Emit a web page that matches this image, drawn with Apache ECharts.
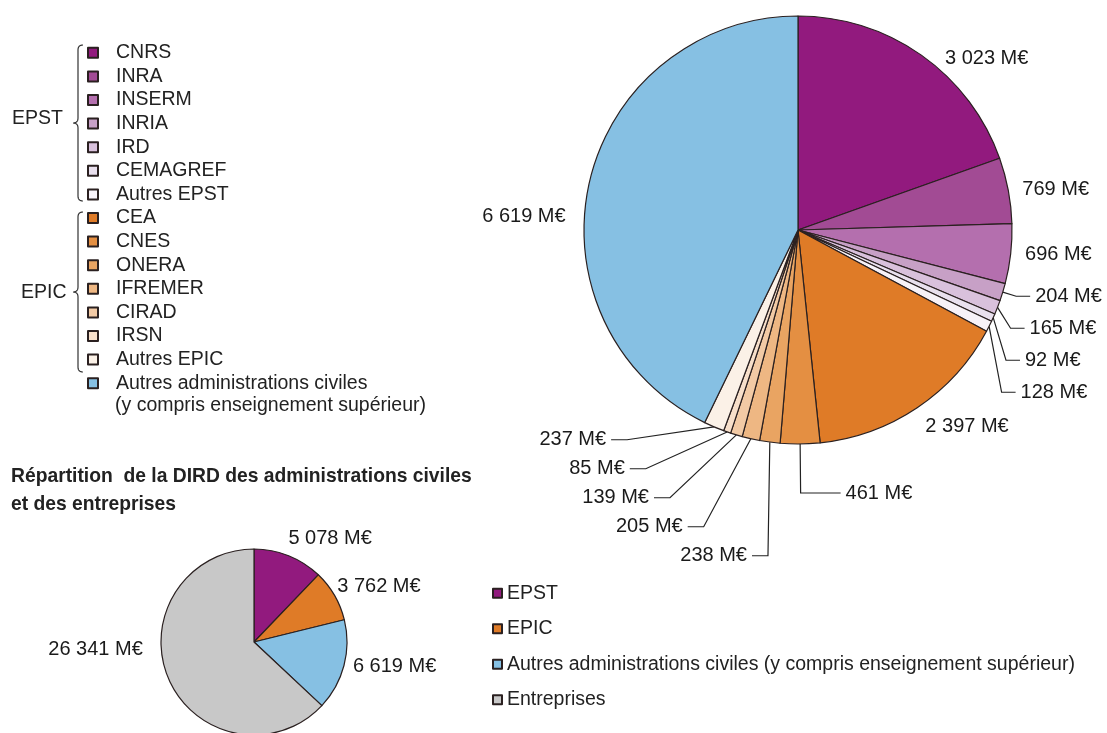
<!DOCTYPE html>
<html>
<head>
<meta charset="utf-8">
<script src="https://cdn.jsdelivr.net/npm/echarts@6/dist/echarts.min.js"></script>
<style>
  html, body { margin: 0; padding: 0; background: #fff; }
  #main { width: 1107px; height: 733px; }
</style>
</head>
<body>
<div id="main"></div>
<script>
// DIRD des administrations civiles, par organisme (M€)
var organismes = ['CNRS', 'INRA', 'INSERM', 'INRIA', 'IRD', 'CEMAGREF', 'Autres EPST',
  'CEA', 'CNES', 'ONERA', 'IFREMER', 'CIRAD', 'IRSN', 'Autres EPIC',
  'Autres administrations civiles (y compris enseignement supérieur)'];
var montants = [3023, 769, 696, 204, 165, 92, 128, 2397, 461, 238, 205, 139, 85, 237, 6619];
var couleurs = ['#921a7e', '#a24b94', '#b46fae', '#c7a0c6', '#d9c1dc', '#e9e0ee', '#f7f2f8',
  '#df7b27', '#e48f42', '#e9a462', '#eeb783', '#f2caa5', '#f7dfca', '#fbf1e7', '#86c0e3'];

// Répartition DIRD administrations civiles / entreprises (M€)
var secteurs = ['EPST', 'EPIC', 'Autres administrations civiles (y compris enseignement supérieur)', 'Entreprises'];
var montantsSecteurs = [5078, 3762, 6619, 26341];
var couleursSecteurs = ['#921a7e', '#df7b27', '#86c0e3', '#c8c8c8'];

var police = '"Liberation Sans", Arial, sans-serif';

function fmt(v) {
  return String(v).replace(/\B(?=(\d{3})+(?!\d))/g, ' ') + ' M€';
}

// accolade dessinée en polyligne (courbes quadratiques échantillonnées)
function quad(pts, p0, c, p1) {
  for (var t = 0.125; t <= 1.0001; t += 0.125) {
    var u = 1 - t;
    pts.push([u * u * p0[0] + 2 * u * t * c[0] + t * t * p1[0], u * u * p0[1] + 2 * u * t * c[1] + t * t * p1[1]]);
  }
}
function accolade(x, y1, y2) {
  var m = (y1 + y2) / 2, pts = [[x + 5, y1]];
  quad(pts, [x + 5, y1], [x, y1], [x, y1 + 5]);
  pts.push([x, m - 5]);
  quad(pts, [x, m - 5], [x, m], [x - 5, m]);
  quad(pts, [x - 5, m], [x, m], [x, m + 5]);
  pts.push([x, y2 - 5]);
  quad(pts, [x, y2 - 5], [x, y2], [x + 5, y2]);
  return pts;
}

// réglage des étiquettes : sans trait pour les grandes parts
function reglage(i) {
  if (i >= 3 && i <= 6) return { line: { show: true, length: 14, length2: 14 }, label: { lineHeight: 30, alignTo: 'labelLine', edgeDistance: 8 } };
  if (i === 8) return { line: { show: true, length: 49, length2: 40 }, label: { lineHeight: 22 } };
  if (i >= 9 && i <= 13) return { line: { show: true, length: 14, length2: 16 }, label: { lineHeight: 27 } };
  return { line: { show: false, length: 8, length2: 6 }, label: { lineHeight: 22 } };
}

var donnees = organismes.map(function (n, i) {
  var r = reglage(i);
  return {
    name: n,
    value: montants[i],
    itemStyle: { color: couleurs[i] },
    labelLine: r.line,
    label: r.label
  };
});

var donneesSecteurs = secteurs.map(function (n, i) {
  return { name: n, value: montantsSecteurs[i], itemStyle: { color: couleursSecteurs[i] } };
});

var myChart = echarts.init(document.getElementById('main'));

var option = {
  backgroundColor: '#fff',
  animation: false,
  title: {
    text: 'Répartition  de la DIRD des administrations civiles\net des entreprises',
    left: 6,
    top: 458,
    textStyle: { fontFamily: police, fontSize: 19.3, fontWeight: 'bold', color: '#222', lineHeight: 28 }
  },
  legend: [{
    data: organismes,
    orient: 'vertical',
    left: 82,
    top: 36,
    itemWidth: 10,
    itemHeight: 10,
    itemGap: 0,
    icon: 'rect',
    selectedMode: false,
    formatter: function (n) { return n.replace(/ \(.*\)$/, ''); },
    textStyle: { fontFamily: police, fontSize: 19.5, lineHeight: 23.6, color: '#222', padding: [0, 0, 0, 13] }
  }, {
    data: secteurs,
    orient: 'vertical',
    left: 487,
    top: 577,
    itemWidth: 9,
    itemHeight: 9,
    itemGap: 13,
    icon: 'rect',
    selectedMode: false,
    textStyle: { fontFamily: police, fontSize: 19.5, lineHeight: 22.5, color: '#222' }
  }],
  graphic: [
    { type: 'polyline', shape: { points: accolade(78, 45, 201) }, style: { fill: null, stroke: '#333', lineWidth: 1.2 } },
    { type: 'polyline', shape: { points: accolade(78, 212, 372) }, style: { fill: null, stroke: '#333', lineWidth: 1.2 } },
    { type: 'text', left: 12, top: 109, style: { text: 'EPST', font: '19.5px ' + police, fill: '#222' } },
    { type: 'text', left: 21, top: 283, style: { text: 'EPIC', font: '19.5px ' + police, fill: '#222' } },
    { type: 'text', left: 115, top: 396, style: { text: '(y compris enseignement supérieur)', font: '19.5px ' + police, fill: '#222' } }
  ],
  series: [{
    name: 'Organismes',
    type: 'pie',
    center: [798, 230],
    radius: 214,
    startAngle: 90,
    clockwise: true,
    data: donnees,
    itemStyle: { borderColor: '#2a2020', borderWidth: 1.2 },
    label: {
      show: true,
      position: 'outside',
      overflow: 'none',
      formatter: function (p) { return fmt(p.value); },
      fontFamily: police,
      fontSize: 20,
      color: '#1a1a1a'
    },
    labelLine: { lineStyle: { color: '#222', width: 1.2 } },
    labelLayout: function (p) {
      if (p.dataIndex === 0) return { dx: 8, dy: 10 };
      if (p.dataIndex === 7) return { dx: -32, dy: 6 };
      if (p.dataIndex === 14) return { dx: -5, dy: 36 };
      return {};
    },
    emphasis: { disabled: true }
  }, {
    name: 'Secteurs',
    type: 'pie',
    center: [254, 642],
    radius: 93,
    startAngle: 90,
    clockwise: true,
    data: donneesSecteurs,
    itemStyle: { borderColor: '#2a2020', borderWidth: 1.2 },
    label: {
      show: true,
      position: 'outside',
      formatter: function (p) { return fmt(p.value); },
      fontFamily: police,
      fontSize: 20,
      color: '#1a1a1a'
    },
    labelLine: { show: false, length: 2, length2: 2 },
    labelLayout: function (p) {
      if (p.dataIndex === 0) return { dx: -8, dy: -15 };
      if (p.dataIndex === 1) return { dx: -6, dy: -8 };
      if (p.dataIndex === 3) return { dx: -17, dy: -30 };
      return {};
    },
    emphasis: { disabled: true }
  }]
};

myChart.setOption(option);
</script>
</body>
</html>
